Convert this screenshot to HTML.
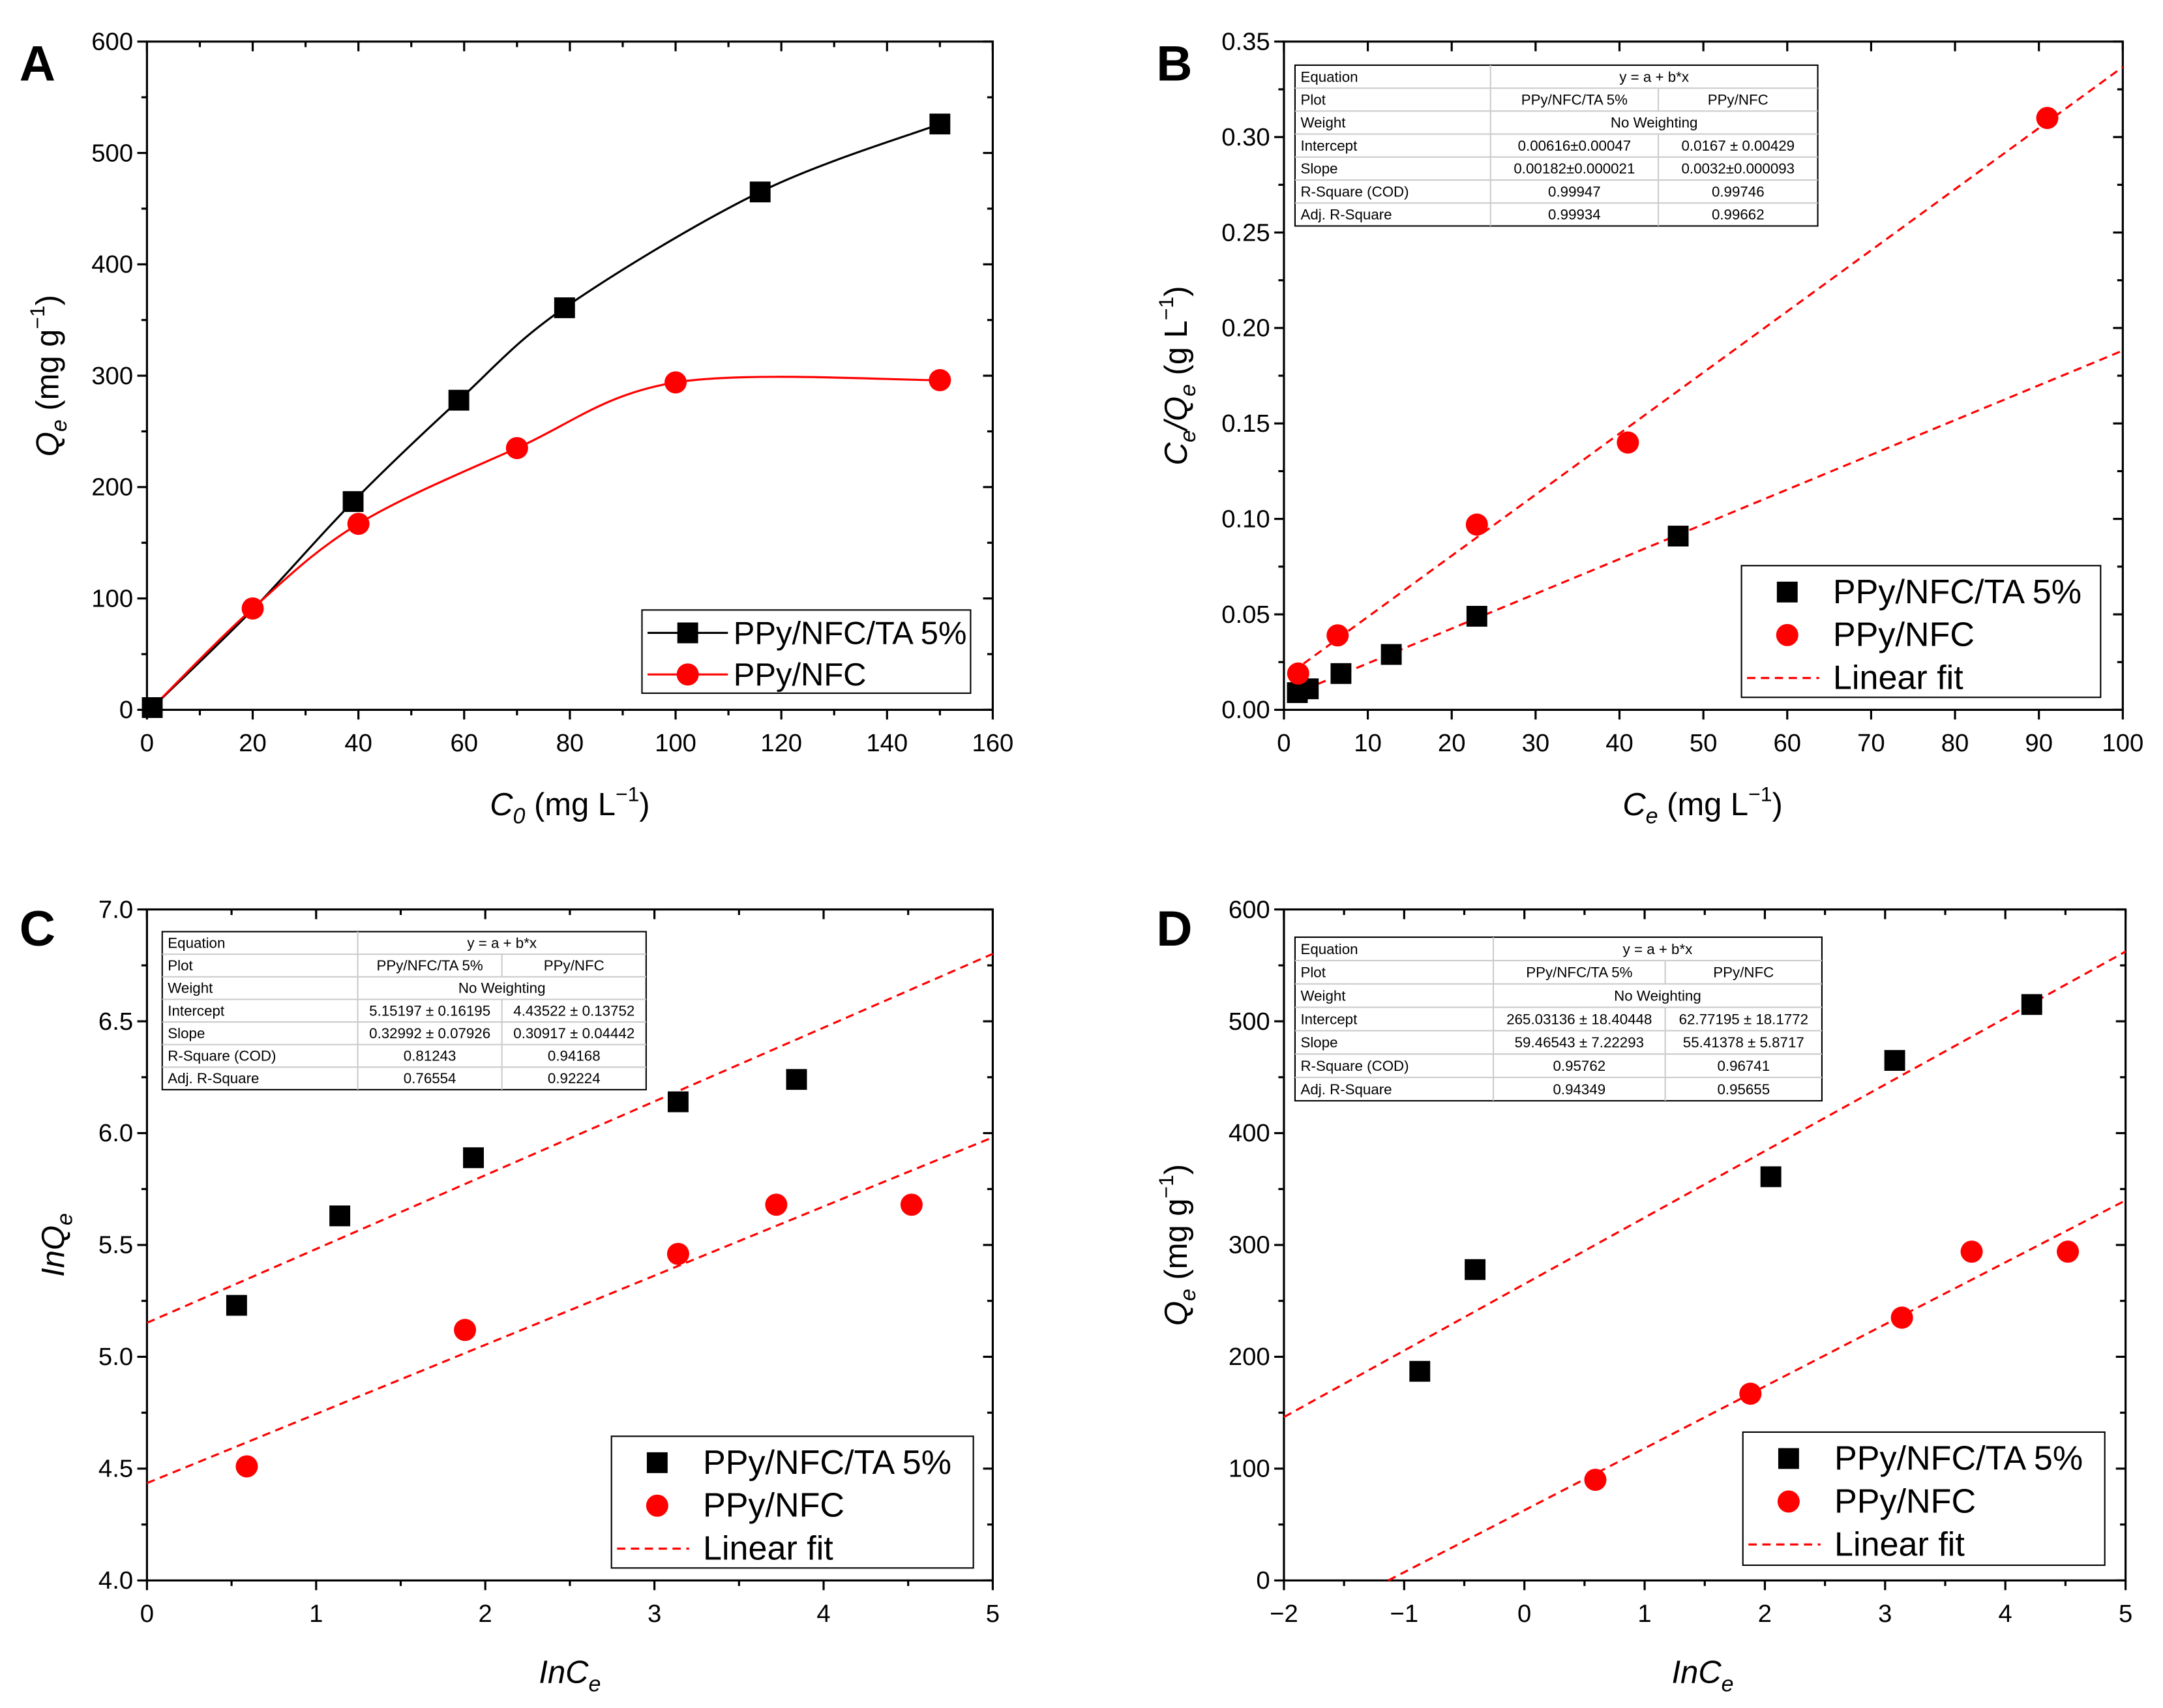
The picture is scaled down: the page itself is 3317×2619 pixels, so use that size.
<!DOCTYPE html>
<html><head><meta charset="utf-8"><style>
html,body{margin:0;padding:0;background:#fff}
svg{display:block}
text{font-family:"Liberation Sans",Arial,sans-serif}
</style></head><body>
<svg id="fig" width="3317" height="2619" viewBox="0 0 1560 1232" preserveAspectRatio="none" xmlns="http://www.w3.org/2000/svg"></svg>
<script>
// Panel A data
const aBlackX=[1,20,39,59,79,116,150];
const aBlackY=[2,90,187,278,361,465,526];
const aRedX=[1,20,40,70,100,150];
const aRedY=[2,91,167,235,294,296];
// Panel B data
const bBlackX=[1.6,2.9,6.8,12.8,23,47];
const bBlackY=[0.009,0.011,0.019,0.029,0.049,0.091];
const bRedX=[1.7,6.4,23,41,91];
const bRedY=[0.019,0.039,0.097,0.140,0.310];
const bFit=[[0.00616,0.00182],[0.0167,0.0032]];
// Panel C data
const cBlackX=[0.53,1.14,1.93,3.14,3.84];
const cBlackY=[5.23,5.63,5.89,6.14,6.24];
const cRedX=[0.59,1.88,3.14,3.72,4.52];
const cRedY=[4.51,5.12,5.46,5.68,5.68];
const cFit=[[5.15197,0.32992],[4.43522,0.30917]];
// Panel D data
const dBlackX=[-0.87,-0.41,2.05,3.08,4.22];
const dBlackY=[187,278,361,465,515];
const dRedX=[0.59,1.88,3.14,3.72,4.52];
const dRedY=[90,167,235,294,294];
const dFit=[[265.03136,59.46543],[62.77195,55.41378]];
// tick labels
const aXT=[0,20,40,60,80,100,120,140,160], aYT=[0,100,200,300,400,500,600];
const bXT=[0,10,20,30,40,50,60,70,80,90,100], bYT=["0.00","0.05","0.10","0.15","0.20","0.25","0.30","0.35"];
const cXT=[0,1,2,3,4,5], cYT=["4.0","4.5","5.0","5.5","6.0","6.5","7.0"];
const dXT=["\u22122","\u22121","0","1","2","3","4","5"], dYT=[0,100,200,300,400,500,600];

const NS="http://www.w3.org/2000/svg";
const svg=document.getElementById('fig');
function mk(tag,attrs,parent,txt){const e=document.createElementNS(NS,tag);for(const k in attrs)e.setAttribute(k,attrs[k]);if(txt!==undefined)e.textContent=txt;(parent||svg).appendChild(e);return e;}

function panel(id,L,T,R,B,x0,x1,y0,y1,xt,yt,minorX,minorY){
  const g=mk('g',{});
  
  
  const sx=v=>L+(v-x0)/(x1-x0)*(R-L);
  const sy=v=>B-(v-y0)/(y1-y0)*(B-T);
  const r=mk('rect',{x:L,y:T,width:R-L,height:B-T,fill:'none',stroke:'#000','stroke-width':1.5},g);
  
  
  const nx=xt.length-1, ny=yt.length-1;
  for(let i=0;i<=nx;i++){
    const x=L+i*(R-L)/nx;
    mk('line',{x1:x,y1:B,x2:x,y2:B+7,stroke:'#000','stroke-width':1.5},g);
    mk('line',{x1:x,y1:T,x2:x,y2:T+7,stroke:'#000','stroke-width':1.5},g);
    const t=mk('text',{x:x,y:B+30,'font-size':18,'text-anchor':'middle'},g,String(xt[i]));
    
    
    if(i<nx&&minorX){const xm=x+(R-L)/nx/2;
      mk('line',{x1:xm,y1:B,x2:xm,y2:B+4,stroke:'#000','stroke-width':1.5},g);
      mk('line',{x1:xm,y1:T,x2:xm,y2:T+4,stroke:'#000','stroke-width':1.5},g);}
  }
  for(let i=0;i<=ny;i++){
    const y=B-i*(B-T)/ny;
    mk('line',{x1:L-7,y1:y,x2:L,y2:y,stroke:'#000','stroke-width':1.5},g);
    mk('line',{x1:R-7,y1:y,x2:R,y2:y,stroke:'#000','stroke-width':1.5},g);
    const t=mk('text',{x:L-10,y:y+6,'font-size':18,'text-anchor':'end'},g,String(yt[i]));
    
    
    if(i<ny&&minorY){const ym=y-(B-T)/ny/2;
      mk('line',{x1:L-4,y1:ym,x2:L,y2:ym,stroke:'#000','stroke-width':1.5},g);
      mk('line',{x1:R-4,y1:ym,x2:R,y2:ym,stroke:'#000','stroke-width':1.5},g);}
  }
  return {g,sx,sy};
}
function sq(g,x,y,c){const e=mk('rect',{x:x-7.5,y:y-7.5,width:15,height:15,fill:c},g);}
function ci(g,x,y,c){const e=mk('circle',{cx:x,cy:y,r:8,fill:c},g);}
function spline(g,P,xs,ys,color,name){
  const p=xs.map((v,i)=>[P.sx(v),P.sy(ys[i])]);
  let d='M'+p[0][0]+','+p[0][1];
  for(let i=0;i<p.length-1;i++){
    const p0=p[Math.max(0,i-1)],p1=p[i],p2=p[i+1],p3=p[Math.min(p.length-1,i+2)];
    const c1=[p1[0]+(p2[0]-p0[0])/6,p1[1]+(p2[1]-p0[1])/6];
    const c2=[p2[0]-(p3[0]-p1[0])/6,p2[1]-(p3[1]-p1[1])/6];
    d+=' C'+c1+' '+c2+' '+p2;
  }
  const e=mk('path',{d:d,fill:'none',stroke:color,'stroke-width':1.5},g);
  
  
}
function fit(g,P,ab,xa,xb,name){
  const e=mk('line',{x1:P.sx(xa),y1:P.sy(ab[0]+ab[1]*xa),x2:P.sx(xb),y2:P.sy(ab[0]+ab[1]*xb),stroke:'#f00','stroke-width':1.5,'stroke-dasharray':'6,4'},g);
  
  
}
function letter(x,y,s){const t=mk('text',{x:x,y:y,'font-size':36,'font-weight':'bold'},svg,s);}
function xtitle(g,x,y,html){const t=mk('text',{x:x,y:y,'font-size':23,'text-anchor':'middle'},g);t.innerHTML=html;}
function ytitle(g,x,y,html){const t=mk('text',{x:0,y:0,'font-size':23,'text-anchor':'middle',transform:`translate(${x},${y}) rotate(-90)`},g);t.innerHTML=html;}
function legend(g,x,y,w,h,withFit,lineStyle){
  const lg=mk('g',{},g);
  
  
  mk('rect',{x:x,y:y,width:w,height:h,fill:'#fff',stroke:'#000','stroke-width':1},lg);
  const rh=withFit?31:30; const fs=withFit?24.5:23;
  const ys=[y+rh*0.55,y+rh*1.55,y+rh*2.55].map(v=>v+(withFit?2:0));
  if(lineStyle){
    mk('line',{x1:x+4,y1:ys[0],x2:x+62,y2:ys[0],stroke:'#000','stroke-width':1.5},lg);
    mk('line',{x1:x+4,y1:ys[1],x2:x+62,y2:ys[1],stroke:'#f00','stroke-width':1.5},lg);
  }
  sq(lg,x+33,ys[0],'#000');ci(lg,x+33,ys[1],'#f00');
  const tx=x+66;
  let t=mk('text',{x:tx,y:ys[0]+8,'font-size':fs},lg,'PPy/NFC/TA 5%');
  t=mk('text',{x:tx,y:ys[1]+8,'font-size':fs},lg,'PPy/NFC');
  if(withFit){
    mk('line',{x1:x+4,y1:ys[2],x2:x+56,y2:ys[2],stroke:'#f00','stroke-width':1.5,'stroke-dasharray':'6,4'},lg);
    t=mk('text',{x:tx,y:ys[2]+8,'font-size':fs},lg,'Linear fit');
  }
}
function table(g,x,y,w,h,c1,c2,rows){
  const tg=mk('g',{},g);
  
  
  mk('rect',{x:x,y:y,width:w,height:h,fill:'#fff',stroke:'#000','stroke-width':1},tg);
  const rh=h/7;
  for(let i=1;i<7;i++)mk('line',{x1:x,y1:y+i*rh,x2:x+w,y2:y+i*rh,stroke:'#ccc','stroke-width':1},tg);
  mk('line',{x1:c1,y1:y,x2:c1,y2:y+h,stroke:'#ccc','stroke-width':1},tg);
  [1,3,4,5,6].forEach(i=>mk('line',{x1:c2,y1:y+i*rh,x2:c2,y2:y+(i+1)*rh,stroke:'#ccc','stroke-width':1},tg));
  const lab=['Equation','Plot','Weight','Intercept','Slope','R-Square (COD)','Adj. R-Square'];
  for(let i=0;i<7;i++){
    const yy=y+i*rh+rh*0.72;
    mk('text',{x:x+4,y:yy,'font-size':10.5},tg,lab[i]);
    const r=rows[i];
    if(r.length===1)mk('text',{x:(c1+x+w)/2,y:yy,'font-size':10.5,'text-anchor':'middle'},tg,r[0]);
    else{mk('text',{x:(c1+c2)/2,y:yy,'font-size':10.5,'text-anchor':'middle'},tg,r[0]);
         mk('text',{x:(c2+x+w)/2,y:yy,'font-size':10.5,'text-anchor':'middle'},tg,r[1]);}
  }
}

// ---- Panel A
let P=panel('a',106,30,716,512,0,160,0,600,aXT,aYT,true,true);
spline(P.g,P,aBlackX,aBlackY,'#000','series-ta-line');
spline(P.g,P,aRedX,aRedY,'#f00','series-nfc-line');
aBlackX.forEach((v,i)=>{ if(i!==1) sq(P.g,P.sx(v),P.sy(aBlackY[i]),'#000');});
aRedX.forEach((v,i)=>{ if(i>0) ci(P.g,P.sx(v),P.sy(aRedY[i]),'#f00');});
legend(P.g,463,440,237,60,false,true);
xtitle(P.g,411,588,'<tspan font-style="italic">C</tspan><tspan font-style="italic" font-size="16" dy="6">0</tspan><tspan dy="-6"> (mg L</tspan><tspan font-size="15" dy="-10">−1</tspan><tspan dy="10">)</tspan>');
ytitle(P.g,42,271,'<tspan font-style="italic">Q</tspan><tspan font-style="italic" font-size="16" dy="6">e</tspan><tspan dy="-6"> (mg g</tspan><tspan font-size="15" dy="-10">−1</tspan><tspan dy="10">)</tspan>');
letter(14,58,'A');

// ---- Panel B
P=panel('b',926,30,1531,512,0,100,0,0.35,bXT,bYT,false,true);
fit(P.g,P,bFit[0],1,100,'fit-line-ta');fit(P.g,P,bFit[1],1,100,'fit-line-nfc');
bBlackX.forEach((v,i)=>sq(P.g,P.sx(v),P.sy(bBlackY[i]),'#000'));
bRedX.forEach((v,i)=>ci(P.g,P.sx(v),P.sy(bRedY[i]),'#f00'));
table(P.g,934,47,377,116,1075,1196,[['y = a + b*x'],['PPy/NFC/TA 5%','PPy/NFC'],['No Weighting'],['0.00616±0.00047','0.0167 ± 0.00429'],['0.00182±0.000021','0.0032±0.000093'],['0.99947','0.99746'],['0.99934','0.99662']]);
legend(P.g,1256,408,259,95,true,false);
xtitle(P.g,1228,588,'<tspan font-style="italic">C</tspan><tspan font-style="italic" font-size="16" dy="6">e</tspan><tspan dy="-6"> (mg L</tspan><tspan font-size="15" dy="-10">−1</tspan><tspan dy="10">)</tspan>');
ytitle(P.g,856,271,'<tspan font-style="italic">C</tspan><tspan font-style="italic" font-size="16" dy="6">e</tspan><tspan font-style="italic" dy="-6">/Q</tspan><tspan font-style="italic" font-size="16" dy="6">e</tspan><tspan dy="-6"> (g L</tspan><tspan font-size="15" dy="-10">−1</tspan><tspan dy="10">)</tspan>');
letter(834,58,'B');

// ---- Panel C
P=panel('c',106,656,716,1140,0,5,4,7,cXT,cYT,true,true);
fit(P.g,P,cFit[0],0,5,'fit-line-ta');fit(P.g,P,cFit[1],0,5,'fit-line-nfc');
cBlackX.forEach((v,i)=>sq(P.g,P.sx(v),P.sy(cBlackY[i]),'#000'));
cRedX.forEach((v,i)=>ci(P.g,P.sx(v),P.sy(cRedY[i]),'#f00'));
table(P.g,117,672,349,114,258,362,[['y = a + b*x'],['PPy/NFC/TA 5%','PPy/NFC'],['No Weighting'],['5.15197 ± 0.16195','4.43522 ± 0.13752'],['0.32992 ± 0.07926','0.30917 ± 0.04442'],['0.81243','0.94168'],['0.76554','0.92224']]);
legend(P.g,441,1036,261,95,true,false);
xtitle(P.g,411,1214,'<tspan font-style="italic">InC</tspan><tspan font-style="italic" font-size="16" dy="6">e</tspan>');
ytitle(P.g,46,898,'<tspan font-style="italic">InQ</tspan><tspan font-style="italic" font-size="16" dy="6">e</tspan>');
letter(14,682,'C');

// ---- Panel D
P=panel('d',926,656,1533,1140,-2,5,0,600,dXT,dYT,true,true);
fit(P.g,P,dFit[0],-2,5,'fit-line-ta');fit(P.g,P,dFit[1],-dFit[1][0]/dFit[1][1],5,'fit-line-nfc');
dBlackX.forEach((v,i)=>sq(P.g,P.sx(v),P.sy(dBlackY[i]),'#000'));
dRedX.forEach((v,i)=>ci(P.g,P.sx(v),P.sy(dRedY[i]),'#f00'));
table(P.g,934,676,380,118,1077,1201,[['y = a + b*x'],['PPy/NFC/TA 5%','PPy/NFC'],['No Weighting'],['265.03136 ± 18.40448','62.77195 ± 18.1772'],['59.46543 ± 7.22293','55.41378 ± 5.8717'],['0.95762','0.96741'],['0.94349','0.95655']]);
legend(P.g,1257,1033,261,96,true,false);
xtitle(P.g,1228,1214,'<tspan font-style="italic">InC</tspan><tspan font-style="italic" font-size="16" dy="6">e</tspan>');
ytitle(P.g,856,898,'<tspan font-style="italic">Q</tspan><tspan font-style="italic" font-size="16" dy="6">e</tspan><tspan dy="-6"> (mg g</tspan><tspan font-size="15" dy="-10">−1</tspan><tspan dy="10">)</tspan>');
letter(834,682,'D');
</script>
</body></html>
